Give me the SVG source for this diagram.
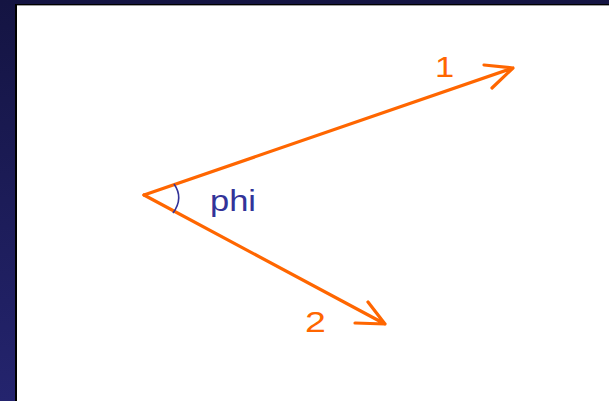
<svg xmlns="http://www.w3.org/2000/svg" width="609" height="401" viewBox="0 0 609 401">
<defs>
<linearGradient id="bg" x1="0" y1="0" x2="0" y2="1">
<stop offset="0" stop-color="#141442"/>
<stop offset="1" stop-color="#24246e"/>
</linearGradient>
</defs>
<style>
.vec{stroke:#ff6600;stroke-width:3.2;fill:none;stroke-linecap:round;stroke-linejoin:round}
.lbl{font-family:"Liberation Sans",Arial,sans-serif;font-size:30px}
</style>
<rect x="0" y="0" width="609" height="401" fill="url(#bg)"/>
<rect x="15" y="4" width="594" height="397" fill="#000000"/>
<rect x="17" y="5" width="592" height="1" fill="#a0a0a0"/>
<rect x="17" y="6" width="592" height="395" fill="#ffffff"/>
<g id="connectors">
<path class="vec" d="M144,195 L513,68 M484,65 L513,68 L492,88"/>
<path class="vec" d="M144,195 L385,324 M355,323 L385,324 L368,302"/>
<path d="M174,184 Q184,198 173,213" fill="none" stroke="#333399" stroke-width="1.6"/>
</g>
<g id="label-1"><text class="lbl" fill="#ff6600" transform="translate(435,77) scale(1.15,1)">1</text></g>
<g id="label-2"><text class="lbl" fill="#ff6600" transform="translate(305,332) scale(1.25,1)">2</text></g>
<g id="label-phi"><text class="lbl" fill="#333399" transform="translate(210,211) scale(1.15,1)">phi</text></g>
</svg>
